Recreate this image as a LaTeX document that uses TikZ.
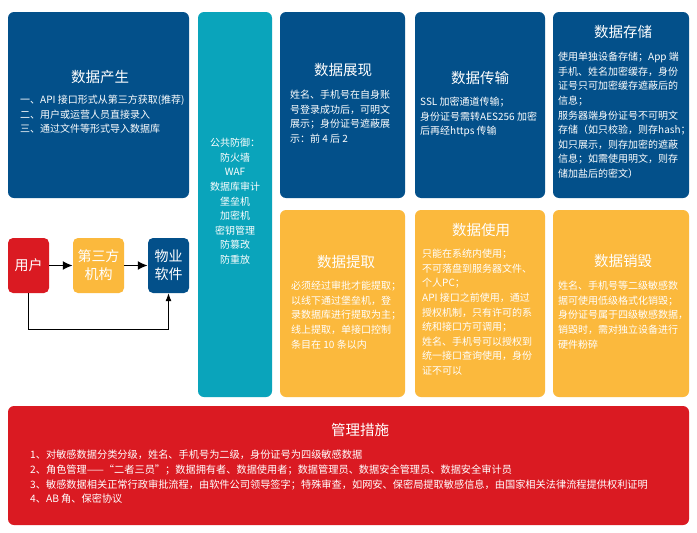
\documentclass[tikz,border=0pt]{standalone}
\usepackage{fontspec}
\setmainfont{Noto Sans CJK SC}
\usetikzlibrary{fit,arrows.meta}
\definecolor{cblue}{HTML}{03508A}
\definecolor{cteal}{HTML}{0AA4BB}
\definecolor{cyel}{HTML}{FBB93D}
\definecolor{cred}{HTML}{DA1A22}
\begin{document}
\begin{tikzpicture}[x=1pt,y=-1pt,
  panel/.style={rounded corners=6pt, inner sep=0pt, draw=none},
  ttl/.style={text=white, font=\fontsize{14.5}{17}\selectfont, inner sep=0pt},
  bdy/.style={text=white, font=\fontsize{10}{14.6}\selectfont, align=left, anchor=north west, inner sep=0pt},
  flow/.style={rounded corners=5pt, text=white, font=\fontsize{14}{18}\selectfont, align=center, minimum width=41pt, minimum height=55pt, inner sep=0pt},
  harrow/.style={line width=1.8pt, -{Latex[length=10pt,width=9pt]}},
  farrow/.style={line width=0.9pt, -{Latex[length=8pt,width=6pt]}}]
\path[use as bounding box, fill=white] (0,0) rectangle (697,533);

% panels
\node[panel, fill=cblue, fit={(8,12)(189,198)}] (pchansheng) {};
\node[panel, fill=cteal, fit={(198,12)(272,397)}] (pfangyu) {};
\node[panel, fill=cblue, fit={(280,12)(405,198)}] (pzhanxian) {};
\node[panel, fill=cblue, fit={(415,12)(545,198)}] (pchuanshu) {};
\node[panel, fill=cblue, fit={(553,12)(689,198)}] (pcunchu) {};
\node[panel, fill=cyel, fit={(280,210)(405,397)}] (ptiqu) {};
\node[panel, fill=cyel, fit={(415,210)(545,397)}] (pshiyong) {};
\node[panel, fill=cyel, fit={(553,210)(689,397)}] (pxiaohui) {};
\node[panel, fill=cred, fit={(8,406)(689,525)}] (pguanli) {};

% 数据产生
\node[ttl] (tchansheng) at (100,77) {数据产生};
\node[bdy] (bchansheng) at (20,95) {一、API 接口形式从第三方获取(推荐)\\二、用户或运营人员直接录入\\三、通过文件等形式导入数据库};

% 公共防御
\node[text=white, font=\fontsize{10}{14.6}\selectfont, align=center, anchor=north, inner sep=0pt] (bfangyu) at (235,138)
 {公共防御：\\防火墙\\WAF\\数据库审计\\堡垒机\\加密机\\密钥管理\\防篡改\\防重放};

% 数据展现
\node[ttl] (tzhanxian) at (343,70) {数据展现};
\node[bdy] (bzhanxian) at (290,90) {姓名、手机号在自身账\\号登录成功后，可明文\\展示；身份证号遮蔽展\\示：前 4 后 2};

% 数据传输
\node[ttl] (tchuanshu) at (480,78) {数据传输};
\node[bdy] (bchuanshu) at (420,97) {SSL 加密通道传输；\\身份证号需转AES256 加密\\后再经https 传输};

% 数据存储
\node[ttl] (tcunchu) at (623,32) {数据存储};
\node[bdy] (bcunchu) at (558,52) {使用单独设备存储；App 端\\手机、姓名加密缓存，身份\\证号只可加密缓存遮蔽后的\\信息；\\服务器端身份证号不可明文\\存储（如只校验，则存hash；\\如只展示，则存加密的遮蔽\\信息；如需使用明文，则存\\储加盐后的密文）};

% 数据提取
\node[ttl] (ttiqu) at (346,262) {数据提取};
\node[bdy] (btiqu) at (291,281) {必须经过审批才能提取；\\以线下通过堡垒机，登\\录数据库进行提取为主；\\线上提取，单接口控制\\条目在 10 条以内};

% 数据使用
\node[ttl] (tshiyong) at (481,230) {数据使用};
\node[bdy] (bshiyong) at (422,249) {只能在系统内使用；\\不可落盘到服务器文件、\\个人PC；\\API 接口之前使用，通过\\授权机制，只有许可的系\\统和接口方可调用；\\姓名、手机号可以授权到\\统一接口查询使用，身份\\证不可以};

% 数据销毁
\node[ttl] (txiaohui) at (623,261) {数据销毁};
\node[bdy] (bxiaohui) at (558,281) {姓名、手机号等二级敏感数\\据可使用低级格式化销毁；\\身份证号属于四级敏感数据，\\销毁时，需对独立设备进行\\硬件粉碎};

% 管理措施
\node[ttl] (tguanli) at (360,430) {管理措施};
\node[bdy, font=\fontsize{10.2}{14.7}\selectfont] (bguanli) at (30,450) {1、对敏感数据分类分级，姓名、手机号为二级，身份证号为四级敏感数据\\2、角色管理——“二者三员”；数据拥有者、数据使用者；数据管理员、数据安全管理员、数据安全审计员\\3、敏感数据相关正常行政审批流程，由软件公司领导签字；特殊审查，如网安、保密局提取敏感信息，由国家相关法律流程提供权利证明\\4、AB 角、保密协议};

% flow
\node[flow, fill=cred] (yonghu) at (28.5,265.5) {用户};
\node[flow, fill=cyel, minimum width=51pt] (disanfang) at (98.5,265.5) {第三方\\机构};
\node[flow, fill=cblue] (wuye) at (168.5,265.5) {物业\\软件};
\draw[harrow] (yonghu) -- (disanfang);
\draw[harrow] (disanfang) -- (wuye);
\coordinate (fb) at (0,329);
\draw[farrow] (yonghu.south) -- (yonghu.south |- fb) -| (wuye.south);
\end{tikzpicture}
\end{document}
